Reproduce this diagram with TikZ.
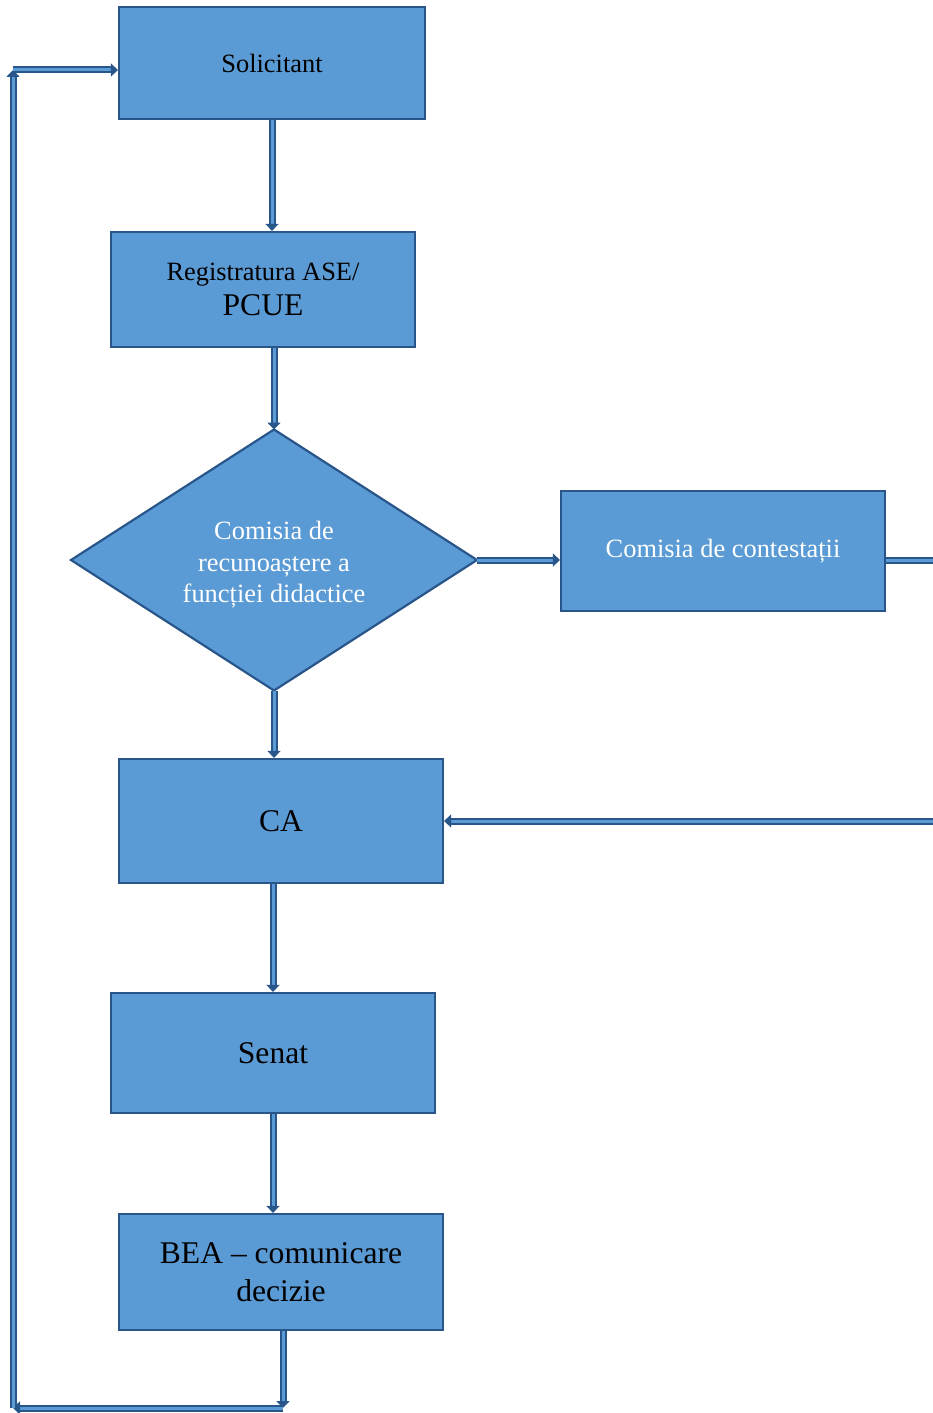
\documentclass[tikz,border=0pt]{standalone}
\usepackage{fontspec}
\setmainfont{Liberation Serif}
\usetikzlibrary{positioning, shapes.geometric, arrows.meta}
\definecolor{boxfill}{HTML}{5B9BD5}
\definecolor{boxline}{HTML}{28558A}

\begin{document}
\begin{tikzpicture}[x=0.5pt, y=-0.5pt,
    stepbox/.style={draw=boxline, line width=1.1pt, fill=boxfill, align=center, inner sep=2pt},
    decision/.style={diamond, aspect=1.55, draw=boxline, line width=1.1pt, fill=boxfill, align=center, inner sep=0pt, outer sep=0pt, text=white, font=\fontsize{13.2}{15.8}\selectfont},
    flow/.style={draw=boxline, line width=1pt, double=boxfill, double distance=1.5pt, -{Triangle[length=3.5pt, width=6.5pt]}},
    small/.style={font=\fontsize{13.2}{16}\selectfont},
    large/.style={font=\fontsize{15.8}{19}\selectfont}]
        \useasboundingbox (0,0) rectangle (932,1413);

        \node [stepbox, small, minimum width=153pt, minimum height=56pt] (sol) at (272,63) {Solicitant};
        \node [stepbox, minimum width=152pt, minimum height=57.5pt] (reg) at (263,289.5) {{\fontsize{13.2}{16}\selectfont Registratura ASE/}\\[3.5pt]{\fontsize{15.8}{17}\selectfont PCUE}};
        \node [decision, minimum width=203pt, minimum height=130.5pt] (crf) at (274,560) {\rule{0pt}{14pt}Comisia de\\recunoaștere a\\funcției didactice};
        \node [stepbox, small, text=white, minimum width=162pt, minimum height=60pt] (cont) at (723,551) {Comisia de contestații};
        \node [stepbox, large, minimum width=162pt, minimum height=62pt] (ca) at (281,821) {CA};
        \node [stepbox, large, minimum width=162pt, minimum height=60pt] (senat) at (273,1053) {Senat};
        \node [stepbox, large, minimum width=162pt, minimum height=58pt] (bea) at (281,1272) {BEA -- comunicare\\decizie};

        % main line
        \draw [flow] (sol.south) -- (sol.south |- reg.north);
        \draw [flow] (crf.north |- reg.south) -- (crf.north);
        \draw [flow] (crf.south) -- (crf.south |- ca.north);
        \draw [flow] (senat.north |- ca.south) -- (senat.north);
        \draw [flow] (senat.south) -- (senat.south |- bea.north);

        % contestation
        \draw [flow] (crf.east) -- (crf.east -| cont.west);
        \draw [flow] (cont.east |- crf.east) -- ++(90,0) |- (ca.east);

        % back to the applicant
        \coordinate (c1) at (283,1408);
        \coordinate (c2) at (13,1408);
        \coordinate (c3) at (13,70);
        \draw [flow] (bea.south -| c1) -- (c1);
        \draw [flow] (c1) -- (c2);
        \draw [flow] (c2) -- (c3);
        \draw [flow] (c3) -- (c3 -| sol.west);
    \end{tikzpicture}
\end{document}
